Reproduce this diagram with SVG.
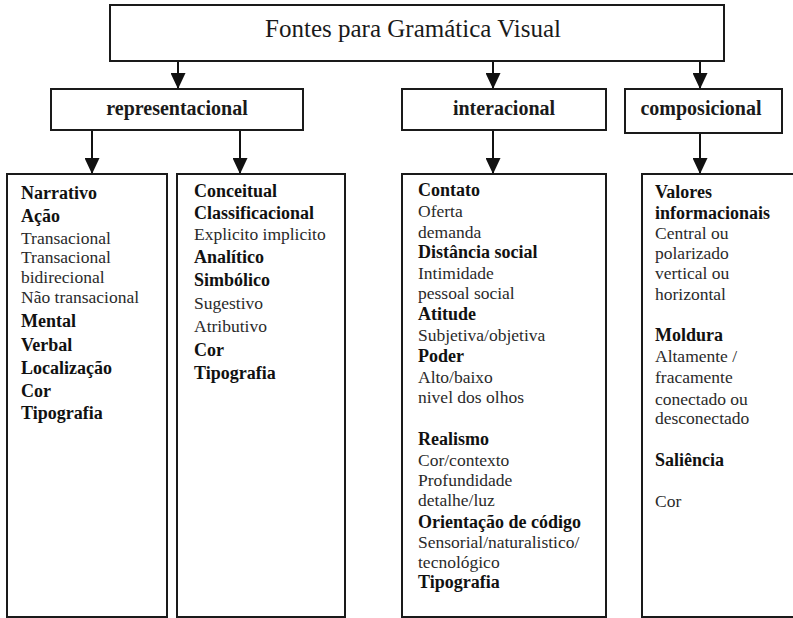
<svg xmlns="http://www.w3.org/2000/svg" width="793" height="618" viewBox="0 0 793 618">
<style>
.box{fill:#fff;stroke:#1a1a1a;stroke-width:2}
.title{font-family:"Liberation Serif","Times New Roman",serif;font-size:25px;fill:#1a1a1a}
.lvl{font-family:"Liberation Serif","Times New Roman",serif;font-size:20px;font-weight:bold;fill:#1a1a1a}
.b{font-family:"Liberation Serif","Times New Roman",serif;font-size:18px;font-weight:bold;fill:#111}
.r{font-family:"Liberation Serif","Times New Roman",serif;font-size:17.5px;fill:#2a2a2a}
.con{stroke:#111;stroke-width:2;fill:none}
</style>
<defs>
<marker id="ah" markerUnits="userSpaceOnUse" markerWidth="16" markerHeight="15" refX="16" refY="7.5" orient="auto">
<path d="M0,0 L16,7.5 L0,15 Z" fill="#111"/>
</marker>
</defs>
<rect width="793" height="618" fill="#fff"/>
<g id="connectors">
<line class="con" x1="178" y1="61" x2="178" y2="89" marker-end="url(#ah)"/>
<line class="con" x1="493" y1="61" x2="493" y2="89" marker-end="url(#ah)"/>
<line class="con" x1="700" y1="61" x2="700" y2="89" marker-end="url(#ah)"/>
<line class="con" x1="92" y1="130" x2="92" y2="174" marker-end="url(#ah)"/>
<line class="con" x1="240" y1="130" x2="240" y2="174" marker-end="url(#ah)"/>
<line class="con" x1="493" y1="130" x2="493" y2="174" marker-end="url(#ah)"/>
<line class="con" x1="700" y1="133" x2="700" y2="174" marker-end="url(#ah)"/>
</g>
<g id="root">
<rect class="box" x="110" y="5" width="614" height="56"/>
<text class="title" x="413" y="37" text-anchor="middle">Fontes para Gramática Visual</text>
</g>
<g id="representacional">
<rect class="box" x="51" y="89" width="252" height="41"/>
<text class="lvl" x="177" y="115" text-anchor="middle">representacional</text>
</g>
<g id="interacional">
<rect class="box" x="402" y="89" width="204" height="41"/>
<text class="lvl" x="504" y="115" text-anchor="middle">interacional</text>
</g>
<g id="composicional">
<rect class="box" x="625" y="89" width="157" height="44"/>
<text class="lvl" x="701" y="115" text-anchor="middle">composicional</text>
</g>
<g id="narrativo">
<rect class="box" x="7" y="174" width="160" height="443"/>
<text class="b" x="21" y="199">Narrativo</text>
<text class="b" x="21" y="222">Ação</text>
<text class="r" x="21" y="244">Transacional</text>
<text class="r" x="21" y="263">Transacional</text>
<text class="r" x="21" y="283">bidirecional</text>
<text class="r" x="21" y="303">Não transacional</text>
<text class="b" x="21" y="327">Mental</text>
<text class="b" x="21" y="351">Verbal</text>
<text class="b" x="21" y="374">Localização</text>
<text class="b" x="21" y="397">Cor</text>
<text class="b" x="21" y="419">Tipografia</text>
</g>
<g id="conceitual">
<rect class="box" x="177" y="174" width="168" height="443"/>
<text class="b" x="194" y="197">Conceitual</text>
<text class="b" x="194" y="219">Classificacional</text>
<text class="r" x="194" y="240">Explicito implicito</text>
<text class="b" x="194" y="263">Analítico</text>
<text class="b" x="194" y="286">Simbólico</text>
<text class="r" x="194" y="309">Sugestivo</text>
<text class="r" x="194" y="332">Atributivo</text>
<text class="b" x="194" y="356">Cor</text>
<text class="b" x="194" y="379">Tipografia</text>
</g>
<g id="interacional-itens">
<rect class="box" x="402" y="174" width="204" height="443"/>
<text class="b" x="418" y="196">Contato</text>
<text class="r" x="418" y="217">Oferta</text>
<text class="r" x="418" y="238">demanda</text>
<text class="b" x="418" y="258">Distância social</text>
<text class="r" x="418" y="279">Intimidade</text>
<text class="r" x="418" y="299">pessoal social</text>
<text class="b" x="418" y="320">Atitude</text>
<text class="r" x="418" y="341">Subjetiva/objetiva</text>
<text class="b" x="418" y="362">Poder</text>
<text class="r" x="418" y="383">Alto/baixo</text>
<text class="r" x="418" y="403">nivel dos olhos</text>
<text class="b" x="418" y="445">Realismo</text>
<text class="r" x="418" y="466">Cor/contexto</text>
<text class="r" x="418" y="486">Profundidade</text>
<text class="r" x="418" y="506">detalhe/luz</text>
<text class="b" x="418" y="528">Orientação de código</text>
<text class="r" x="418" y="548">Sensorial/naturalistico/</text>
<text class="r" x="418" y="568">tecnológico</text>
<text class="b" x="418" y="588">Tipografia</text>
</g>
<g id="composicional-itens">
<rect class="box" x="642" y="174" width="160" height="443"/>
<text class="b" x="655" y="198">Valores</text>
<text class="b" x="655" y="219">informacionais</text>
<text class="r" x="655" y="239">Central ou</text>
<text class="r" x="655" y="259">polarizado</text>
<text class="r" x="655" y="279">vertical ou</text>
<text class="r" x="655" y="300">horizontal</text>
<text class="b" x="655" y="341">Moldura</text>
<text class="r" x="655" y="362">Altamente /</text>
<text class="r" x="655" y="383">fracamente</text>
<text class="r" x="655" y="405">conectado ou</text>
<text class="r" x="655" y="424">desconectado</text>
<text class="b" x="655" y="466">Saliência</text>
<text class="r" x="655" y="507">Cor</text>
</g>
</svg>
